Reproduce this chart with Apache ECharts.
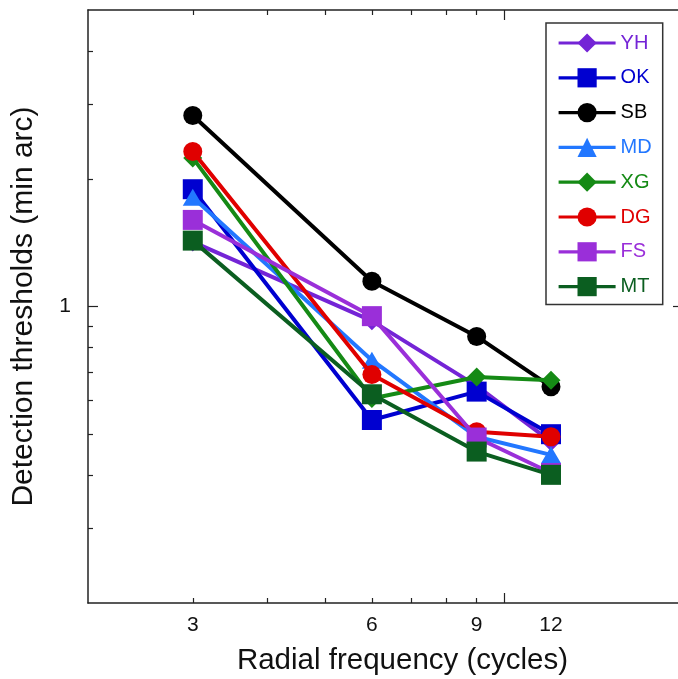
<!DOCTYPE html>
<html><head><meta charset="utf-8">
<script src="https://cdn.jsdelivr.net/npm/echarts@6/dist/echarts.min.js"></script>
<style>html,body{margin:0;padding:0;background:#fff}#c{width:678px;height:679px}</style>
</head><body><div id="c"></div>
<script>
const freqs = [3, 6, 9, 12];
const YH = [1.42, 0.925, 0.65, 0.48];
const OK = [1.89, 0.54, 0.63, 0.50];
const SB = [2.82, 1.147, 0.85, 0.647];
const MD = [1.81, 0.747, 0.493, 0.447];
const XG = [2.24, 0.607, 0.682, 0.67];
const DG = [2.32, 0.691, 0.507, 0.493];
const FS = [1.60, 0.949, 0.491, 0.405];
const MT = [1.43, 0.621, 0.455, 0.401];

const seriesNames = ['YH', 'OK', 'SB', 'MD', 'XG', 'DG', 'FS', 'MT'];
const seriesValues = [YH, OK, SB, MD, XG, DG, FS, MT];
const seriesColors = ['#7424D6', '#0000D0', '#000000', '#2277FF', '#158A15', '#E00000', '#9A2FD9', '#0B5E20'];
const seriesSymbols = ['diamond', 'rect', 'circle', 'triangle', 'diamond', 'circle', 'rect', 'rect'];
const symbolSizes = [19, 20, 19, [20, 17], 19, 19, 20, 20];

const xLabelValues = [3, 6, 9, 12];
const xMinorTicks = [3, 4, 5, 6, 7, 8, 9];
const xMajorTicks = [10];
const yLabelValues = [1];
const yMinorTicks = [0.3, 0.4, 0.5, 0.6, 0.7, 0.8, 0.9, 2, 3, 4];
const yMajorTicks = [1];
const xRange = [2, 20];
const yRange = [0.2, 5];

const FONT = 'Liberation Sans, Arial, Helvetica, sans-serif';
const AXC = '#222';

function makeAxis(kind, position, ticks, len, labels, showLine, extra) {
  const range = kind === 'x' ? xRange : yRange;
  const ax = {
    type: 'log', logBase: 10, min: range[0], max: range[1], position: position,
    axisLine: { show: showLine, lineStyle: { color: AXC, width: 1.5 } },
    axisTick: { show: true, inside: true, length: len, customValues: ticks, lineStyle: { color: AXC, width: 1.2 } },
    minorTick: { show: false },
    splitLine: { show: false },
    axisLabel: labels ? {
      show: true, customValues: labels, color: '#111', fontFamily: FONT, fontSize: 21,
      margin: kind === 'x' ? 12 : 17,
      formatter: v => String(Math.round(v * 100) / 100)
    } : { show: false }
  };
  return Object.assign(ax, extra || {});
}

const xAxes = [
  makeAxis('x', 'bottom', xMinorTicks, 5, xLabelValues, true, {
    name: 'Radial frequency (cycles)', nameLocation: 'middle', nameGap: 43,
    nameTextStyle: { fontFamily: FONT, fontSize: 29.5, color: '#111', padding: [0, 0, 0, 34] }
  }),
  makeAxis('x', 'bottom', xMajorTicks, 10, null, false),
  makeAxis('x', 'top', xMinorTicks, 5, null, true),
  makeAxis('x', 'top', xMajorTicks, 10, null, false)
];
const yAxes = [
  makeAxis('y', 'left', yMinorTicks, 5, yLabelValues, true, {
    name: 'Detection thresholds (min arc)', nameLocation: 'middle', nameGap: 49,
    nameTextStyle: { fontFamily: FONT, fontSize: 30, color: '#111' }
  }),
  makeAxis('y', 'left', yMajorTicks, 10, null, false),
  makeAxis('y', 'right', yMinorTicks, 5, null, true),
  makeAxis('y', 'right', yMajorTicks, 10, null, false)
];

const series = seriesNames.map((n, i) => ({
  name: n, type: 'line',
  data: freqs.map((f, j) => [f, seriesValues[i][j]]),
  symbol: seriesSymbols[i], symbolSize: symbolSizes[i], showAllSymbol: true,
  lineStyle: { color: seriesColors[i], width: 4 },
  itemStyle: { color: seriesColors[i] },
  emphasis: { disabled: true },
  z: 2 + i
}));

const chart = echarts.init(document.getElementById('c'), null, { renderer: 'canvas' });
chart.setOption({
  animation: false,
  backgroundColor: '#fff',
  grid: { left: 88, right: -5, top: 10, bottom: 76, outerBoundsMode: 'none', containLabel: false },
  xAxis: xAxes,
  yAxis: yAxes,
  legend: {
    orient: 'vertical', left: 546, top: 23,
    data: seriesNames.map((n, i) => ({ name: n, textStyle: { color: seriesColors[i] } })),
    itemWidth: 57, itemHeight: 24, itemGap: 14.8, itemTextGap: 6,
    padding: [10, 11, 8, 11],
    borderColor: '#333', borderWidth: 1.5,
    lineStyle: { width: 3.2 },
    textStyle: { fontFamily: FONT, fontSize: 20 }
  },
  series: series
});
</script></body></html>
